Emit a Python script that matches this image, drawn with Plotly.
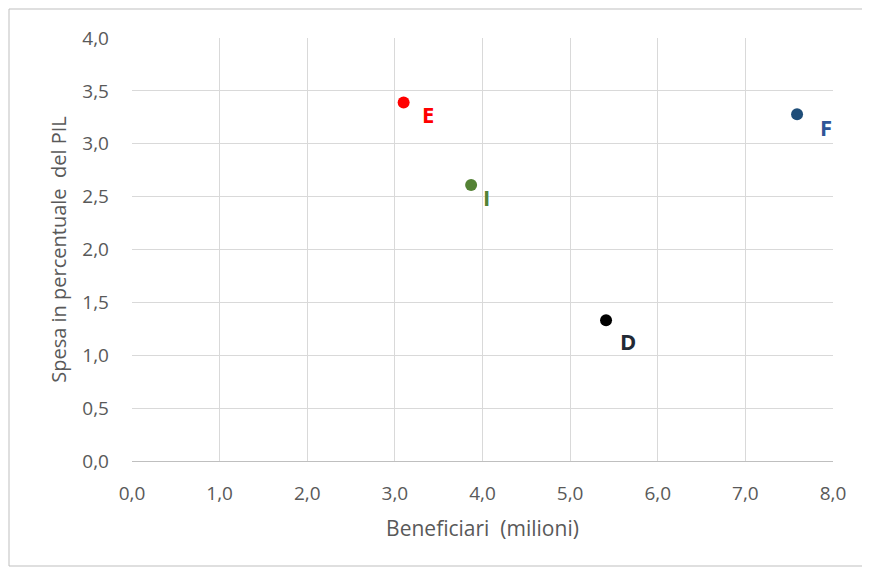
import plotly.graph_objects as go

# Data
countries = ["E", "I", "D", "F"]
beneficiari = [3.10, 3.87, 5.41, 7.59]      # milioni
spesa_pil = [3.39, 2.61, 1.33, 3.28]        # % del PIL
x_ticks = [0, 1, 2, 3, 4, 5, 6, 7, 8]
y_ticks = [0, 0.5, 1, 1.5, 2, 2.5, 3, 3.5, 4]

# Styles
marker_colors = ["#ff0000", "#548235", "#000000", "#1f4e79"]
label_colors = ["#ff0000", "#548235", "#222a35", "#2f5597"]
label_offsets = [(24, -11), (15, -12), (22, -21), (29, -13)]

FONT = "'Open Sans', sans-serif"
GREY = "#595959"

# page body has an 8px default margin; the figure is sized to fit the 870x568 window
W, H = 862, 560
L, R, T, B = 124, 37, 30, 107
PW, PH = W - L - R, H - T - B

fig = go.Figure()
fig.add_trace(go.Scatter(
    x=beneficiari, y=spesa_pil, mode="markers",
    marker=dict(size=12, color=marker_colors),
    hoverinfo="skip", showlegend=False,
))

for name, xv, yv, col, (dx, dy) in zip(countries, beneficiari, spesa_pil, label_colors, label_offsets):
    fig.add_annotation(
        x=xv, y=yv, text=f"<b>{name}</b>", showarrow=False,
        xanchor="center", yanchor="middle", xshift=dx, yshift=dy,
        font=dict(family=FONT, size=22, color=col),
    )

fmt = lambda v: f"{v:.1f}".replace(".", ",")

fig.update_layout(
    width=W, height=H,
    margin=dict(l=L, r=R, t=T, b=B),
    paper_bgcolor="white", plot_bgcolor="white",
    font=dict(family=FONT, color=GREY, size=19),
    xaxis=dict(
        range=[0, 8], tickvals=x_ticks, ticktext=[fmt(v) for v in x_ticks],
        showgrid=True, gridcolor="#d9d9d9", gridwidth=1,
        zeroline=False, showline=True, linecolor="#bfbfbf", linewidth=1,
        ticks="", ticklabelstandoff=15,
        title=dict(text="Beneficiari  (milioni)", font=dict(size=21, color=GREY), standoff=16),
        fixedrange=True,
    ),
    yaxis=dict(
        range=[0, 4], tickvals=y_ticks, ticktext=[fmt(v) for v in y_ticks],
        showgrid=True, gridcolor="#d9d9d9", gridwidth=1,
        zeroline=False, showline=False,
        ticks="", ticklabelstandoff=22,
        title=dict(text="Spesa in percentuale  del PIL", font=dict(size=20, color=GREY), standoff=10),
        fixedrange=True,
    ),
)

# Outer chart-area border (page px 9..868 x 9..566)
fig.add_shape(
    type="rect", xref="paper", yref="paper",
    x0=(1 - L) / PW, x1=(860 - L) / PW,
    y0=(H - B - 558) / PH, y1=(H - B - 1) / PH,
    line=dict(color="#bfbfbf", width=1), fillcolor="rgba(0,0,0,0)", layer="below",
)

fig.write_html("out.html")
